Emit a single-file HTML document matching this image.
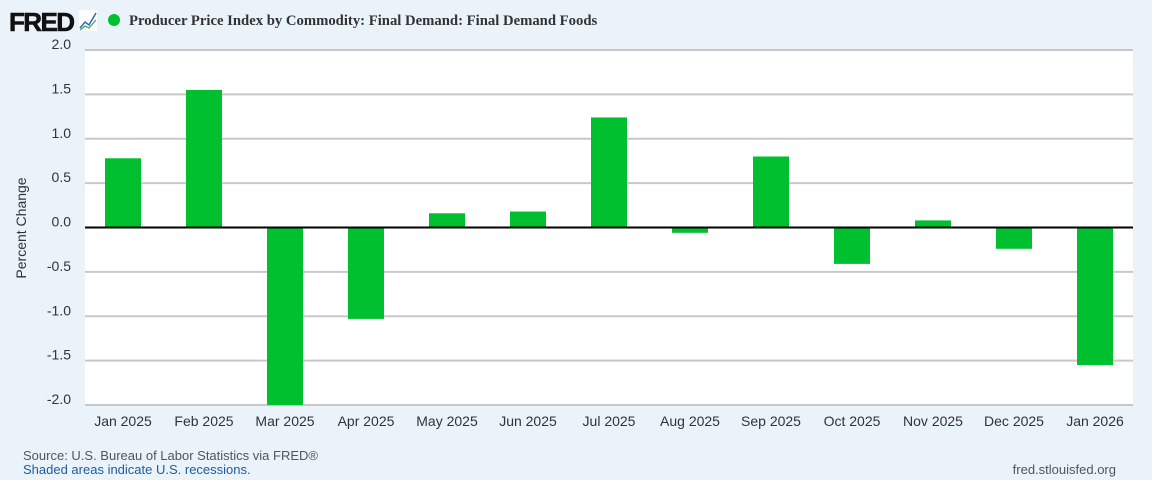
<!DOCTYPE html>
<html><head><meta charset="utf-8"><style>
body{margin:0;background:#eaf2fa;font-family:"Liberation Sans",sans-serif;}
svg{display:block}
</style></head><body>
<svg width="1152" height="480" id="c">
<rect x="0" y="0" width="1152" height="480" fill="#eaf2fa"/>
<g>
<text x="9" y="31" font-size="26" font-weight="bold" fill="#111" font-family="Liberation Sans" letter-spacing="-1.6" stroke="#111" stroke-width="0.6">FRED</text>
<rect x="79" y="10" width="18" height="21" fill="#fff"/>
<polyline points="80,28 85,22 89,25 96,13" fill="none" stroke="#2a6ebb" stroke-width="1.5"/>
<polyline points="80,30 85,26 89,28 96,20" fill="none" stroke="#3aa35a" stroke-width="1.2"/>
</g>
<circle cx="114" cy="20" r="6" fill="#00c030"/>
<text x="129" y="25" font-family="Liberation Serif" font-weight="bold" font-size="14.7" fill="#333">Producer Price Index by Commodity: Final Demand: Final Demand Foods</text>
<rect x="85" y="50" width="1048" height="355" fill="#fff"/>
<g id="grid"></g><g id="bars"></g><g id="xl"></g>
<text transform="translate(26,228) rotate(-90)" text-anchor="middle" font-size="14" fill="#333">Percent Change</text>
<text x="23" y="460" font-size="13" fill="#555">Source: U.S. Bureau of Labor Statistics via FRED®</text>
<text x="23" y="474" font-size="13" fill="#1f5c9e">Shaded areas indicate U.S. recessions.</text>
<text x="1116" y="474" text-anchor="end" font-size="13" fill="#555">fred.stlouisfed.org</text>
</svg>
<script>
const categories=["Jan 2025","Feb 2025","Mar 2025","Apr 2025","May 2025","Jun 2025","Jul 2025","Aug 2025","Sep 2025","Oct 2025","Nov 2025","Dec 2025","Jan 2026"];
const values=[0.78,1.55,-2.3,-1.03,0.16,0.18,1.24,-0.06,0.80,-0.41,0.08,-0.24,-1.55];
const yTicks=[2.0,1.5,1.0,0.5,0.0,-0.5,-1.0,-1.5,-2.0];
const NS="http://www.w3.org/2000/svg";
const L=85,R=1133,T=50,B=405,yMin=-2,yMax=2,PAD=38;
const y=v=>T+(yMax-Math.max(yMin,Math.min(yMax,v)))/(yMax-yMin)*(B-T);
const step=(R-L-2*PAD)/(categories.length-1);
const x=i=>L+PAD+step*i;
function mk(t,a,p){const e=document.createElementNS(NS,t);for(const k in a)e.setAttribute(k,a[k]);p.appendChild(e);return e;}
const g=document.getElementById('grid'),b=document.getElementById('bars'),xl=document.getElementById('xl');
yTicks.forEach(v=>{
 if(v!==0){const ln=mk('line',{x1:L,x2:R,y1:y(v),y2:y(v),stroke:'#c8c8c8','stroke-width':2},g);
 
 }
 const t=mk('text',{x:71,y:y(v)-1,'text-anchor':'end','font-size':14,fill:'#333'},g);
 t.textContent=v.toFixed(1);
 
 
});
values.forEach((v,i)=>{
 const y0=y(0),y1=y(v);
 const r=mk('rect',{x:x(i)-18,width:36,y:Math.min(y0,y1),height:Math.abs(y1-y0),fill:'#00c030'},b);
 
 
 const t=mk('text',{x:x(i),y:426,'text-anchor':'middle','font-size':14,fill:'#333'},xl);
 t.textContent=categories[i];
 
 
});
const z=mk('line',{x1:L,x2:R,y1:y(0),y2:y(0),stroke:'#000','stroke-width':2},b);


</script>
</body></html>
